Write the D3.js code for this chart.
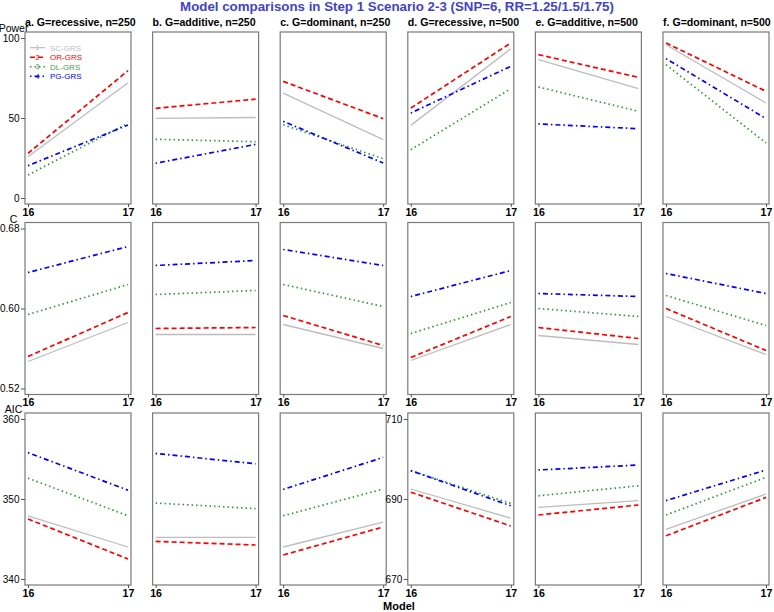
<!DOCTYPE html>
<html>
<head>
<meta charset="utf-8">
<script src="https://cdn.jsdelivr.net/npm/d3@7"></script>
<style>
  html, body { margin: 0; padding: 0; background: #fff; }
  svg { display: block; font-family: Arial, "Liberation Sans", sans-serif; }
</style>
</head>
<body>
<svg id="chart" width="774" height="612"></svg>
<script>
// ---------- data ----------
const models = [16, 17];
const seriesNames = ["SC-GRS", "OR-GRS", "DL-GRS", "PG-GRS"];
const seriesColors = ["#bdbdbd", "#ff0000", "#339933", "#0000ff"];
const seriesDash = [null, "5,3", "1.5,3", "1.5,3,5,3"];
const panelTitles = [
  "a. G=recessive, n=250", "b. G=additive, n=250", "c. G=dominant, n=250",
  "d. G=recessive, n=500", "e. G=additive, n=500", "f. G=dominant, n=500"
];
const rowLabels = ["Power", "C", "AIC"];

// each panel: [SC, OR, DL, PG], each series = [model16, model17]
const powerValues = [
  [[25.8, 72.0], [27.9, 79.6], [14.4, 46.7], [20.2, 45.6]],
  [[49.8, 50.3], [56.0, 61.8], [36.7, 35.2], [21.7, 33.5]],
  [[65.6, 36.5], [72.9, 49.6], [45.8, 24.6], [47.9, 21.9]],
  [[45.4, 93.3], [56.2, 96.9], [30.2, 68.3], [53.1, 82.3]],
  [[86.5, 68.3], [89.6, 75.4], [69.4, 54.2], [46.3, 43.3]],
  [[95.8, 59.4], [96.9, 66.7], [83.3, 34.4], [87.1, 49.6]]
];
const cValues = [
  [[0.547, 0.586], [0.552, 0.596], [0.594, 0.624], [0.636, 0.662]],
  [[0.574, 0.574], [0.580, 0.581], [0.614, 0.618], [0.643, 0.648]],
  [[0.584, 0.560], [0.593, 0.563], [0.624, 0.602], [0.659, 0.643]],
  [[0.548, 0.584], [0.551, 0.592], [0.575, 0.606], [0.612, 0.638]],
  [[0.573, 0.564], [0.581, 0.570], [0.600, 0.592], [0.615, 0.612]],
  [[0.592, 0.554], [0.600, 0.558], [0.613, 0.583], [0.635, 0.615]]
];
const aicValues = [
  [[347.9, 344.0], [347.5, 342.5], [352.6, 347.9], [355.8, 351.1]],
  [[345.2, 345.2], [344.7, 344.25], [349.5, 348.8], [355.7, 354.4]],
  [[344.0, 347.1], [343.0, 346.5], [347.9, 351.25], [351.2, 355.2]],
  [[692.5, 685.2], [691.7, 683.25], [697.1, 688.9], [697.1, 688.3]],
  [[687.9, 689.6], [686.0, 688.5], [690.8, 693.3], [697.25, 698.5]],
  [[682.4, 691.25], [680.8, 690.4], [686.0, 695.4], [689.6, 697.25]]
];
const powerTicks = [0, 50, 100];
const cTicks = [0.52, 0.60, 0.68];
const aicTicks250 = [340, 350, 360];
const aicTicks500 = [670, 690, 710];

// ---------- layout ----------
const svg = d3.select("#chart");
const colLeft = i => 25 + i * 127.6;
const panelW = 106;
const rowTop = [32, 222.5, 413];
const panelH = 172;
const font = "Arial, 'Liberation Sans', sans-serif";

// title
svg.append("text")
  .attr("x", 397).attr("y", 10.5)
  .attr("text-anchor", "middle")
  .attr("font-weight", "bold").attr("font-size", "13.3px")
  .attr("fill", "#4343c8")
  .text("Model comparisons in Step 1 Scenario 2-3 (SNP=6, RR=1.25/1.5/1.75)");

// row labels (drawn first so panel titles sit above)
const rowLabelY = [31.5, 222.5, 413];
rowLabels.forEach((t, r) => {
  svg.append("text")
    .attr("x", 13.5).attr("y", rowLabelY[r])
    .attr("text-anchor", "middle").attr("font-size", "10.5px")
    .attr("fill", "#000").text(t);
});

// panel titles
panelTitles.forEach((t, i) => {
  svg.append("text")
    .attr("x", colLeft(i)).attr("y", 26)
    .attr("font-weight", "bold").attr("font-size", "10.6px")
    .attr("fill", "#000").text(t);
});

const rows = [
  { data: powerValues, dom: () => [0, 100], ticks: () => powerTicks, fmt: d3.format("d") },
  { data: cValues, dom: () => [0.52, 0.68], ticks: () => cTicks, fmt: d3.format(".2f") },
  { data: aicValues, dom: i => i < 3 ? [340, 360] : [670, 710], ticks: i => i < 3 ? aicTicks250 : aicTicks500, fmt: d3.format("d") }
];

rows.forEach((row, r) => {
  for (let i = 0; i < 6; i++) {
    const x0 = colLeft(i), y0 = rowTop[r];
    const g = svg.append("g");
    const x = d3.scaleLinear().domain([16, 17]).range([x0 + 3, x0 + panelW - 3]);
    const y = d3.scaleLinear().domain(row.dom(i)).range([y0 + panelH - 6, y0 + 6]);

    // lines
    row.data[i].forEach((vals, s) => {
      const pts = models.map((m, k) => [m, vals[k]]);
      const line = d3.line().x(d => x(d[0])).y(d => y(d[1]));
      g.append("path")
        .attr("d", line(pts))
        .attr("fill", "none")
        .attr("stroke", seriesColors[s])
        .attr("stroke-width", s === 0 ? 1.3 : 1.7)
        .attr("stroke-dasharray", seriesDash[s]);
    });

    // box
    g.append("rect")
      .attr("x", x0).attr("y", y0).attr("width", panelW).attr("height", panelH)
      .attr("fill", "none").attr("stroke", "#7a7a7a").attr("stroke-width", 1.2);

    // x axis
    const xa = g.append("g").attr("transform", `translate(0,${y0 + panelH})`)
      .call(d3.axisBottom(x).tickValues(models).tickSize(3).tickPadding(1).tickFormat(d3.format("d")));
    xa.select(".domain").remove();
    xa.selectAll("line").attr("stroke", "#555");
    xa.selectAll("text").attr("font-size", "10.6px").attr("font-weight", "bold")
      .attr("font-family", font).attr("fill", "#000");

    // y axis only col a, and col d for AIC
    if (i === 0 || (i === 3 && r === 2)) {
      const ya = g.append("g").attr("transform", `translate(${x0},0)`)
        .call(d3.axisLeft(y).tickValues(row.ticks(i)).tickSize(4).tickPadding(1.5).tickFormat(row.fmt));
      ya.select(".domain").remove();
      ya.selectAll("line").attr("stroke", "#555");
      ya.selectAll("text").attr("font-size", "10px").attr("font-family", font).attr("fill", "#000");
    }

    // legend in panel a, row 1
    if (r === 0 && i === 0) {
      seriesNames.forEach((nm, s) => {
        const ly = 47.7 + s * 9.5;
        g.append("line")
          .attr("x1", 30).attr("x2", 45).attr("y1", ly).attr("y2", ly)
          .attr("stroke", seriesColors[s]).attr("stroke-width", s === 0 ? 1.2 : 1.5)
          .attr("stroke-dasharray", seriesDash[s]);
        g.append("text")
          .attr("x", 37.5).attr("y", ly + 2.5).attr("text-anchor", "middle")
          .attr("font-size", "7px").attr("fill", seriesColors[s]).text(String(s + 1));
        g.append("text")
          .attr("x", 50).attr("y", ly + 3)
          .attr("font-size", "8px").attr("fill", s === 2 ? "#4c9e4c" : seriesColors[s]).text(nm);
      });
    }
  }
});

// x label
svg.append("text")
  .attr("x", 399).attr("y", 609.5)
  .attr("text-anchor", "middle").attr("font-weight", "bold").attr("font-size", "11px")
  .attr("fill", "#000").text("Model");
</script>
</body>
</html>
